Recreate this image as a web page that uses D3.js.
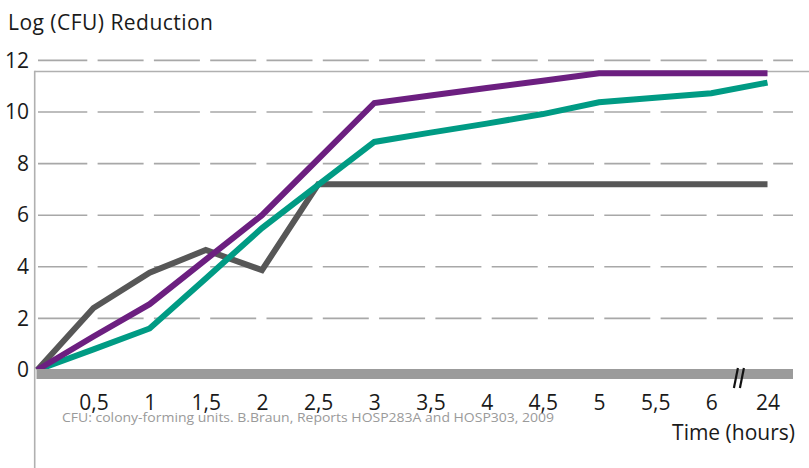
<!DOCTYPE html>
<html>
<head>
<meta charset="utf-8">
<script src="https://cdn.jsdelivr.net/npm/d3@7"></script>
<style>
  html, body { margin: 0; padding: 0; background: #fff; }
  svg { display: block; }
  text { font-family: "Open Sans", "Noto Sans", sans-serif; }
</style>
</head>
<body>
<svg id="chart" width="809" height="468"></svg>
<script>
// ---- data ----
const times = ["0", "0,5", "1", "1,5", "2", "2,5", "3", "3,5", "4", "4,5", "5", "5,5", "6", "24"];
const xTickLabels = ["0,5", "1", "1,5", "2", "2,5", "3", "3,5", "4", "4,5", "5", "5,5", "6", "24"];
const yTickValues = [0, 2, 4, 6, 8, 10, 12];
const gridValues = [2, 4, 6, 8, 10, 12];
const seriesGray   = [0, 2.4, 3.77, 4.65, 3.87, 7.2, 7.2, 7.2, 7.2, 7.2, 7.2, 7.2, 7.2, 7.2];
const seriesPurple = [0, 1.3, 2.55, 4.28, 6.0, 8.17, 10.35, 10.64, 10.93, 11.21, 11.5, 11.5, 11.5, 11.5];
const seriesTeal   = [0, 0.8, 1.61, 3.55, 5.5, 7.18, 8.84, 9.2, 9.55, 9.92, 10.38, 10.55, 10.73, 11.14];
const frameTopValue = 11.57;
const titleText = "Log (CFU) Reduction";
const xTitleText = "Time (hours)";
const noteText = "CFU: colony-forming units. B.Braun, Reports HOSP283A and HOSP303, 2009";

// ---- scales ----
const svg = d3.select("#chart");
const x = d3.scalePoint().domain(times).range([37.3, 767.5]).padding(0);
const y = d3.scaleLinear().domain([0, 12]).range([370, 60.4]);

// gridlines
svg.append("g").selectAll("line").data(gridValues).join("line")
  .attr("x1", 38).attr("x2", 793)
  .attr("y1", d => y(d)).attr("y2", d => y(d))
  .attr("stroke", "#a8a8a8").attr("stroke-width", 1.6)
  .attr("stroke-dasharray", "49.3 10.3 46 10.3 46 10.3 46 10.3 46 10.3 46 10.3 46 10.3 46 10.3 46 10.3 46 10.3 46 10.3 46 10.3 46 10.3 46 10.3");

// frame lines
svg.append("line")
  .attr("x1", 34.7).attr("x2", 809)
  .attr("y1", y(frameTopValue)).attr("y2", y(frameTopValue))
  .attr("stroke", "#b0b0b0").attr("stroke-width", 1.6);
svg.append("line")
  .attr("x1", 34.7).attr("x2", 34.7)
  .attr("y1", y(frameTopValue) - 0.8).attr("y2", 468)
  .attr("stroke", "#b0b0b0").attr("stroke-width", 1.6);

// data lines
const line = d3.line().x((d, i) => x(times[i])).y(d => y(d));
const series = [
  { values: seriesGray, color: "#575757" },
  { values: seriesTeal, color: "#009b84" },
  { values: seriesPurple, color: "#6c1f80" }
];
svg.append("g").selectAll("path").data(series).join("path")
  .attr("d", d => line(d.values))
  .attr("fill", "none")
  .attr("stroke", d => d.color)
  .attr("stroke-width", 6)
  .attr("stroke-linejoin", "miter")
  .attr("stroke-linecap", "butt");

// zero bar
svg.append("rect")
  .attr("x", 36.5).attr("y", y(0) - 1)
  .attr("width", 793 - 36.5).attr("height", 10)
  .attr("fill", "#9b9b9b");

// break mark
const bx = (x("6") + x("24")) / 2;
[[-5.5, -1.5], [0.5, 4.5]].forEach(([a, b]) => {
  svg.append("line")
    .attr("x1", bx + a).attr("y1", 388)
    .attr("x2", bx + b).attr("y2", 368)
    .attr("stroke", "#111").attr("stroke-width", 2.2);
});

// y axis
const yAxis = d3.axisLeft(y).tickValues(yTickValues).tickSize(0).tickPadding(6)
  .tickFormat(d3.format("d"));
const gy = svg.append("g").attr("transform", "translate(35,0)").call(yAxis);
gy.select(".domain").remove();
gy.selectAll("text").attr("font-size", 21).attr("fill", "#1a1a1a")
  .attr("font-family", "'Open Sans', sans-serif");

// x axis
const xAxis = d3.axisBottom(x).tickValues(xTickLabels).tickSize(0).tickPadding(25.1);
const gx = svg.append("g").attr("transform", `translate(0,${y(0)})`).call(xAxis);
gx.select(".domain").remove();
gx.selectAll("text").attr("font-size", 21).attr("fill", "#1a1a1a")
  .attr("font-family", "'Open Sans', sans-serif");

// titles
svg.append("text").attr("x", 8).attr("y", 30)
  .attr("font-size", 21).attr("fill", "#1a1a1a")
  .attr("textLength", 205).attr("lengthAdjust", "spacing")
  .text(titleText);
svg.append("text").attr("x", 795).attr("y", 440).attr("text-anchor", "end")
  .attr("font-size", 21).attr("fill", "#1a1a1a").text(xTitleText);
svg.append("text").attr("x", 62).attr("y", 422)
  .attr("font-size", 13.5).attr("fill", "#9a9a9a")
  .attr("font-family", "Roboto, sans-serif")
  .attr("textLength", 492).attr("lengthAdjust", "spacingAndGlyphs")
  .text(noteText);
</script>
</body>
</html>
